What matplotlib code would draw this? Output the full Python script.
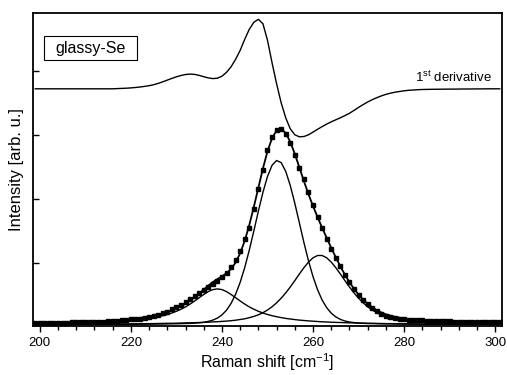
import numpy as np
import matplotlib
matplotlib.use("Agg")
import matplotlib.pyplot as plt
from matplotlib.patches import Rectangle
from matplotlib.ticker import MultipleLocator

plt.rcParams['font.family'] = ['Liberation Sans', 'DejaVu Sans']
plt.rcParams['mathtext.default'] = 'regular'

# Raman shift grid, cm^-1
shift = np.arange(199, 302)

# measured spectrum (squares)
intensity = [1.5, 1.6, 1.7, 1.8, 1.9, 2.0, 2.1, 2.2, 2.3, 2.4, 2.5, 2.6, 2.7, 2.8, 3.0, 3.2, 3.5, 3.8, 4.2, 4.6,
             5.0, 5.3, 5.8, 6.2, 6.7, 7.4, 8.5, 9.7, 11.3, 13.0, 15.5, 17.5, 19.5, 22.5, 25.5, 28.5, 31.5, 34.5, 37.5, 40.5,
             44, 48, 52, 57.5, 65, 74, 86, 97, 116, 136, 155, 175, 188, 195, 196, 191, 182, 169.5, 156.5, 146,
             133, 120, 108, 96.5, 86, 76, 67, 58.5, 50, 43, 36, 30, 25, 20.5, 16.7, 13.5, 11, 9.2, 7.8, 6.8,
             6.1, 5.6, 5.2, 4.8, 4.5, 4.3, 4.1, 3.9, 3.7, 3.6, 3.4, 3.3, 3.2, 3.1, 3.0, 2.9, 2.8, 2.8, 2.7, 2.6,
             2.6, 2.5, 2.5]

# fitted components
peak_239 = [1.1, 1.1, 1.2, 1.2, 1.3, 1.4, 1.5, 1.5, 1.6, 1.7, 1.9, 2.0, 2.1, 2.3, 2.4, 2.6, 2.8, 3.0, 3.3, 3.6,
            3.9, 4.3, 4.7, 5.2, 5.8, 6.4, 7.2, 8.1, 9.1, 10.3, 11.8, 13.5, 15.6, 17.9, 20.7, 23.8, 27.1, 30.3, 33.2, 35.2,
            35.9, 35.2, 33.2, 30.3, 27.1, 23.8, 20.7, 17.9, 15.6, 13.5, 11.8, 10.3, 9.1, 8.1, 7.2, 6.4, 5.8, 5.2, 4.7, 4.3,
            3.9, 3.6, 3.3, 3.0, 2.8, 2.6, 2.4, 2.3, 2.1, 2.0, 1.9, 1.7, 1.6, 1.5, 1.5, 1.4, 1.3, 1.2, 1.2, 1.1,
            1.1, 1.0, 1.0, 0.9, 0.9, 0.8, 0.8, 0.8, 0.7, 0.7, 0.7, 0.7, 0.6, 0.6, 0.6, 0.6, 0.6, 0.5, 0.5, 0.5,
            0.5, 0.5, 0.5]

peak_252 = [0.2, 0.2, 0.2, 0.2, 0.2, 0.2, 0.2, 0.3, 0.3, 0.3, 0.3, 0.3, 0.3, 0.3, 0.4, 0.4, 0.4, 0.4, 0.4, 0.5,
            0.5, 0.5, 0.5, 0.6, 0.6, 0.7, 0.7, 0.8, 0.8, 0.9, 1.0, 1.1, 1.2, 1.3, 1.4, 1.7, 2.0, 2.5, 3.4, 4.7,
            6.7, 9.9, 14.6, 21.4, 30.6, 42.5, 57.3, 74.7, 93.9, 113.7, 132.5, 148.4, 159.5, 164.3, 162.2, 153.5, 139.3,
            121.5, 101.9, 82.2, 64.0, 48.1, 35.0, 24.7, 17.1, 11.6, 7.9, 5.4, 3.8, 2.8, 2.2, 1.8, 1.5, 1.3, 1.2, 1.1,
            1.0, 0.9, 0.9, 0.8, 0.7, 0.7, 0.6, 0.6, 0.6, 0.5, 0.5, 0.5, 0.4, 0.4, 0.4, 0.4, 0.4, 0.3, 0.3, 0.3,
            0.3, 0.3, 0.3, 0.3, 0.2, 0.2, 0.2]

peak_261 = [0.4, 0.4, 0.5, 0.5, 0.5, 0.5, 0.5, 0.5, 0.6, 0.6, 0.6, 0.6, 0.7, 0.7, 0.7, 0.7, 0.8, 0.8, 0.8, 0.9,
            0.9, 1.0, 1.0, 1.1, 1.1, 1.2, 1.2, 1.3, 1.4, 1.5, 1.5, 1.6, 1.7, 1.9, 2.0, 2.1, 2.3, 2.4, 2.6, 2.9,
            3.1, 3.4, 3.7, 4.1, 4.6, 5.3, 6.0, 7.1, 8.4, 10.0, 12.1, 14.8, 18.0, 22.0, 26.6, 31.9, 37.8, 44.2, 50.8,
            57.1, 62.7, 67.0, 69.3, 69.3, 67.0, 62.7, 57.1, 50.8, 44.2, 37.8, 31.9, 26.6, 22.0, 18.0, 14.8, 12.1, 10.0,
            8.4, 7.1, 6.0, 5.3, 4.6, 4.1, 3.7, 3.4, 3.1, 2.9, 2.6, 2.4, 2.3, 2.1, 2.0, 1.9, 1.7, 1.6, 1.5, 1.5,
            1.4, 1.3, 1.2, 1.2, 1.1, 1.1]

# first derivative of the spectrum (scaled)
derivative = [0.0] * 18 + [0.2, 0.4, 0.6, 0.9, 1.3, 1.8, 2.4, 3.1, 4.1, 5.4, 7.0, 8.7, 10.4, 12.0, 13.3, 14.3, 14.7,
              14.4, 13.4, 12.1, 10.9, 10.2, 10.6, 12.6, 16.5, 22.0, 29.5, 38.5, 49.5, 59.5, 66.5, 69.5, 65.0, 48.5,
              26.0, 5.0, -14.0, -29.0, -40.0, -46.0, -48.0, -47.7, -46.0, -43.3, -40.5, -37.8, -35.3, -33.0, -31.0,
              -29.0, -26.8, -24.5, -21.6, -18.6, -15.8, -13.2, -10.9, -8.9, -7.1, -5.6, -4.4, -3.4, -2.7, -2.0, -1.5,
              -1.2, -0.9, -0.7, -0.6, -0.5, -0.45, -0.4, -0.35, -0.3, -0.3, -0.25, -0.2, -0.2, -0.15, -0.1, -0.1,
              -0.05, 0.0, 0.0, 0.0]
deriv_offset = 236

comps = np.array([peak_239, peak_252, peak_261])
fit = comps.sum(axis=0)

fig = plt.figure(figsize=(5.07, 3.75), dpi=100)
ax = fig.add_axes([33 / 507, 1 - 326 / 375, 469 / 507, 313 / 375])

for c in comps:
    ax.plot(shift, c, color='black', lw=1.0)
ax.plot(shift, fit, color='black', lw=1.3)
ax.plot(shift, intensity, ls='none', marker='s', ms=3.2, color='black')
ax.plot(shift, np.array(derivative) + deriv_offset, color='black', lw=1.0)

ax.text(299.3, 243, '1$^{st}$ derivative', ha='right', va='baseline', fontsize=9.5)
ax.add_patch(Rectangle((11 / 469, 1 - 47 / 313), 93 / 469, 24 / 313, transform=ax.transAxes,
                       fill=False, lw=0.8, color='black'))
ax.text(57.5 / 469, 1 - 35 / 313, 'glassy-Se', transform=ax.transAxes, ha='center', va='center', fontsize=11.5)

ax.set_xlim(198.5, 301.5)
ax.set_ylim(-1.2, 311.8)
ax.xaxis.set_major_locator(MultipleLocator(20))
ax.xaxis.set_minor_locator(MultipleLocator(4))
ax.set_yticks([62, 126, 190, 254])
ax.set_yticklabels([])
ax.tick_params(axis='x', which='both', direction='out', top=False, labelsize=9.5, pad=4)
ax.tick_params(axis='y', which='both', direction='in', right=False)
ax.tick_params(which='major', length=4, width=1)
ax.tick_params(which='minor', length=3, width=1)
for s in ax.spines.values():
    s.set_linewidth(1.3)
ax.set_xlabel('Raman shift [cm$^{-1}$]', fontsize=11.5, labelpad=1.5)
ax.set_ylabel('Intensity [arb. u.]', fontsize=12, labelpad=3)

fig.savefig('out.png', dpi=100)
